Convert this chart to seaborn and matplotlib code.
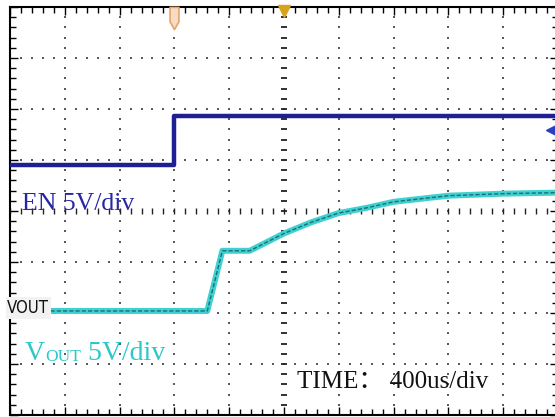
import numpy as np
import pandas as pd
import matplotlib
matplotlib.use("Agg")
import matplotlib.pyplot as plt
from matplotlib.path import Path
from matplotlib.ticker import MultipleLocator
import seaborn as sns

# time base: 400 us/div, 10 divisions; vertical: 5 V/div, 8 divisions
US_PER_DIV = 400
V_PER_DIV = 5

# EN channel (V) and its screen offset (div)
en_t = [0, 1200, 1200, 4000]
en_v = [0.0, 0.0, 4.8, 4.8]
en_offset = 0.9

# VOUT channel (V) and its screen offset (div)
vout_t = [250, 1440, 1550, 1750, 2000, 2200, 2400, 2600, 2800, 3000, 3200, 3400, 3600, 4000]
vout_v = [0.0, 0.0, 5.9, 5.9, 7.6, 8.7, 9.6, 10.1, 10.7, 11.0, 11.3, 11.4, 11.5, 11.6]
vout_offset = -1.96

en_df = pd.DataFrame({"t": en_t, "y": en_offset + np.array(en_v) / V_PER_DIV})
vout_df = pd.DataFrame({"t": vout_t, "y": vout_offset + np.array(vout_v) / V_PER_DIV})

sns.set_style("white")
plt.rcParams["font.family"] = ["Liberation Serif", "Noto Sans CJK SC", "DejaVu Sans"]

fig = plt.figure(figsize=(5.55, 4.17), dpi=100)
ax = fig.add_axes([10 / 555, 2 / 417, 548 / 555, 408 / 417])
ax.set_xlim(0, 10 * US_PER_DIV)
ax.set_ylim(-4, 4)

# graticule dots
dot_c = "#5a5a5a"
ys = np.arange(-4, 4.01, 0.2)
xs = np.arange(0, 4000.1, US_PER_DIV / 5)
for i in range(1, 10):
    if i == 5:
        continue
    ax.scatter(np.full(len(ys), i * US_PER_DIV), ys, s=2.6, marker="s", color=dot_c, lw=0, zorder=1)
for j in range(-3, 4):
    if j == 0:
        continue
    ax.scatter(xs, np.full(len(xs), j), s=2.6, marker="s", color=dot_c, lw=0, zorder=1)

# centre cross with small ticks
ax.plot(np.full(len(ys), 2000), ys, ls="none", marker="_", ms=4, mew=1.3, color="#222222", zorder=1)
ax.plot(xs, np.zeros(len(xs)), ls="none", marker="|", ms=5, mew=1.0, color="#222222", zorder=1)

# traces
sns.lineplot(data=vout_df, x="t", y="y", ax=ax, color="#3fd0d0", lw=4.3,
             estimator=None, sort=False, zorder=3)
sns.lineplot(data=vout_df, x="t", y="y", ax=ax, color="#1d6c78", lw=1.0,
             estimator=None, sort=False, zorder=4, dashes=False)
ax.lines[-1].set_dashes([3, 1.5])
sns.lineplot(data=en_df, x="t", y="y", ax=ax, color="#1f1f94", lw=3.2,
             estimator=None, sort=False, zorder=3)

# scope markers
tear = Path([(-0.4, 1), (0.4, 1), (0.4, -0.3), (0, -1), (-0.4, -0.3), (-0.4, 1)],
            [Path.MOVETO, Path.LINETO, Path.LINETO, Path.LINETO, Path.LINETO, Path.CLOSEPOLY])
ax.plot([1200], [3.78], marker=tear, ms=16, mfc="#f7dcc4", mec="#e6a46a", mew=1.2,
        clip_on=False, zorder=5)
ax.plot([2000], [3.93], marker="v", ms=8, color="#d9a21c", clip_on=False, zorder=5)
ax.plot([3950], [1.59], marker="<", ms=7, color="#2b3fc4", clip_on=False, zorder=5)

# channel tag
ax.text(-20, -1.9, "VOUT", fontsize=12, family=["Liberation Sans Narrow", "DejaVu Sans"],
        fontstretch="condensed", color="#111111", ha="left", va="center", zorder=6,
        bbox=dict(boxstyle="square,pad=0.1", fc="#f2f2f2", ec="none"))

# labels
ax.text(88, 0.02, "EN 5V/div", fontsize=18.5, color="#2626a6", ha="left", va="baseline", zorder=6)
v1 = ax.text(110, -2.92, "V", fontsize=20, color="#2cc8c8", ha="left", va="baseline", zorder=6)
v2 = ax.annotate("OUT", xy=(1, 0), xycoords=v1, xytext=(0, 1), textcoords="offset points",
                 fontsize=12.5, color="#2cc8c8", ha="left", va="bottom", zorder=6)
ax.annotate(" 5V/div", xy=(1, 0), xycoords=v2, xytext=(0, -1), textcoords="offset points",
            fontsize=20, color="#2cc8c8", ha="left", va="bottom", zorder=6)
ax.text(2095, -3.47, "TIME： 400us/div", fontsize=18, color="#111111",
        ha="left", va="baseline", zorder=6)

# frame ticks
ax.xaxis.set_major_locator(MultipleLocator(US_PER_DIV))
ax.xaxis.set_minor_locator(MultipleLocator(US_PER_DIV / 5))
ax.yaxis.set_major_locator(MultipleLocator(1))
ax.yaxis.set_minor_locator(MultipleLocator(0.2))
ax.tick_params(which="both", direction="in", top=True, right=True, bottom=True, left=True,
               labelbottom=False, labelleft=False, color="black", width=1.0)
ax.tick_params(which="major", length=5.5)
ax.tick_params(which="minor", length=4)
ax.set_xlabel("")
ax.set_ylabel("")
for s in ax.spines.values():
    s.set_visible(True)
    s.set_color("black")
    s.set_linewidth(1.5)

fig.savefig("out.png", dpi=100)
